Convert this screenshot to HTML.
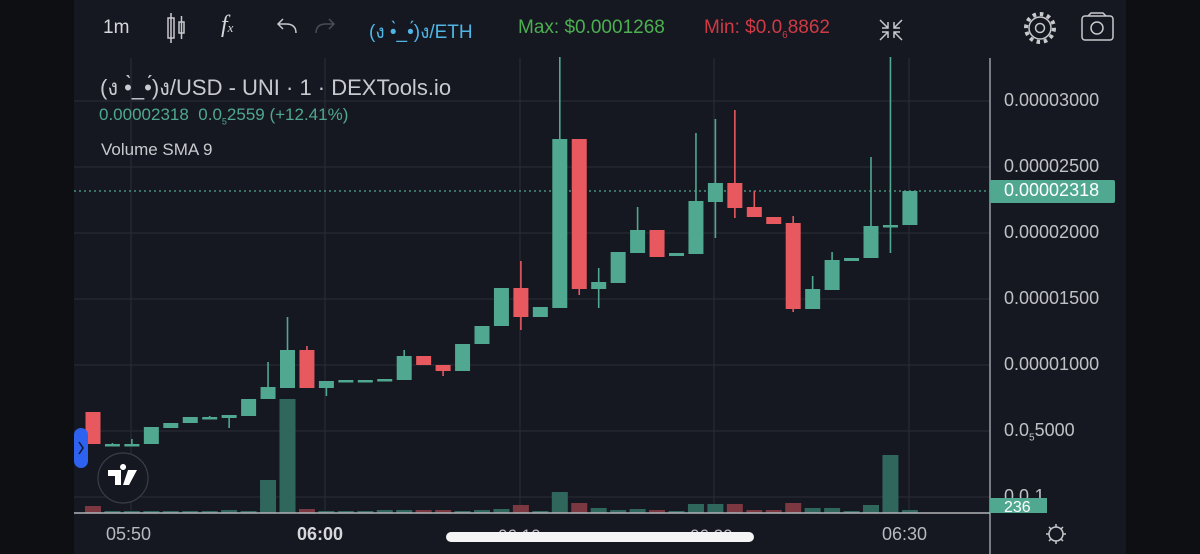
<!DOCTYPE html>
<html><head><meta charset="utf-8"><style>
html,body{margin:0;padding:0;width:1200px;height:554px;overflow:hidden;background:#0e0f13;font-family:"Liberation Sans","DejaVu Sans","Noto Sans CJK SC",sans-serif;}
#w{position:relative;width:1200px;height:554px;}
.t{position:absolute;white-space:nowrap;}
.p{font-size:18px;color:#c0c1c6;left:1004px;}
</style></head><body><div id="w">
<svg id="s" width="1200" height="554" style="position:absolute;left:0;top:0">
<rect x="0" y="0" width="1200" height="554" fill="#0e0f13"/>
<rect x="74" y="0" width="1052" height="554" fill="#161821"/>
<g stroke="#2a2d38" stroke-width="1">
<line x1="74" y1="101" x2="990" y2="101"/><line x1="74" y1="167" x2="990" y2="167"/><line x1="74" y1="233" x2="990" y2="233"/><line x1="74" y1="299" x2="990" y2="299"/><line x1="74" y1="365" x2="990" y2="365"/><line x1="74" y1="431" x2="990" y2="431"/><line x1="74" y1="497" x2="990" y2="497"/>
<line x1="131" y1="58" x2="131" y2="513"/><line x1="325" y1="58" x2="325" y2="513"/><line x1="520" y1="58" x2="520" y2="513"/><line x1="714" y1="58" x2="714" y2="513"/><line x1="909" y1="58" x2="909" y2="513"/>
</g>
<line x1="990" y1="58" x2="990" y2="554" stroke="#9a9ca3" stroke-width="1.5"/>
<line x1="74" y1="191" x2="990" y2="191" stroke="#4fa88f" stroke-width="1.2" stroke-dasharray="2,3"/>
<g id="c"></g>
<line x1="74" y1="513" x2="990" y2="513" stroke="#b0b2b8" stroke-width="1.5"/>
<rect x="74" y="428" width="14" height="40" rx="7" fill="#2d62f0"/>
<path d="M79 442 L83 448 L79 454" stroke="#0e1630" stroke-width="1.5" fill="none"/>
<circle cx="123" cy="478" r="25" fill="#161821" stroke="#3a3d47" stroke-width="1.2"/>
<path d="M108 470 h13 v15 h-6 v-9 h-7z M123 470 a3 3 0 1 1 0.1 0z M128 470 h9 l-8 15 h-6z" fill="#fff"/>
<text x="1004" y="502" font-size="18" fill="#c0c1c6" font-family="Liberation Sans">0.0<tspan font-size="10" dy="3">6</tspan><tspan dy="-3">1</tspan></text>
<rect x="990" y="180" width="125" height="23" rx="2" fill="#4fa88f"/>
<rect x="990" y="498" width="57" height="15" fill="#4fa88f"/>
<text x="498" y="541" font-size="17" fill="#b8b9be" font-family="Liberation Sans">06:10</text>
<text x="690" y="541" font-size="17" fill="#b8b9be" font-family="Liberation Sans">06:20</text>
<rect x="446" y="532" width="308" height="10" rx="5" fill="#f4f4f4"/>
<g stroke="#c8c9cd" stroke-width="1.5" fill="none">
<rect x="168" y="18" width="6" height="20"/><line x1="171" y1="13" x2="171" y2="43"/><rect x="179" y="22" width="5" height="11"/><line x1="181.5" y1="16" x2="181.5" y2="39"/>
<path d="M296 33 q0 -9 -10 -9 h-8 M283 19 l-5 5 l5 5"/>
<path d="M316 33 q0 -9 10 -9 h8 M329 19 l5 5 l-5 5" stroke="#4a4c55"/>
<path d="M880 20 l8 8 M888 22 v6 h-6 M902 20 l-8 8 M894 22 v6 h6 M880 40 l8 -8 M888 38 v-6 h-6 M902 40 l-8 -8 M894 38 v-6 h6"/>
<circle cx="1040" cy="28" r="4.5"/><circle cx="1040" cy="28" r="11"/><circle cx="1040" cy="28" r="14" stroke-width="4" stroke-dasharray="3.5,3.8"/>
<rect x="1082" y="16" width="31" height="24" rx="3"/><circle cx="1097" cy="28" r="6"/><path d="M1088 16 l3 -3 h12 l3 3"/>
<circle cx="1056" cy="534" r="7"/><path d="M1056 524v3M1056 541v3M1046 534h3M1063 534h3M1049 527l2 2M1061 539l2 2M1049 541l2-2M1061 529l2-2"/>
</g>
</svg>
<div class="t" style="left:103px;top:17px;font-size:19px;color:#d6d7db">1m</div>
<div class="t" style="left:221px;top:12px;font-size:24px;color:#d6d7db;font-family:'Liberation Serif',serif;font-style:italic">f<span style="font-size:13px">x</span></div>
<div class="t" style="left:369px;top:17px;font-size:19px;color:#4fb6e6">(ง •̀_•́)ง/ETH</div>
<div class="t" style="left:518px;top:17px;font-size:19px;color:#4caf50">Max: $0.0001268</div>
<div class="t" style="left:704px;top:17px;font-size:19px;color:#cf3a45">Min: $0.0<sub style="font-size:10px">6</sub>8862</div>
<div class="t" style="left:100px;top:70px;font-size:22px;color:#c9cacf">(ง •̀_•́)ง/USD - UNI · 1 · DEXTools.io</div>
<div class="t" style="left:99px;top:105px;font-size:17px;color:#4fa88f">0.00002318&nbsp; 0.0<sub style="font-size:9px">5</sub>2559 (+12.41%)</div>
<div class="t" style="left:101px;top:140px;font-size:17px;color:#c9cacf">Volume SMA 9</div>
<div class="t p" style="top:90px">0.00003000</div>
<div class="t p" style="top:156px">0.00002500</div>
<div class="t p" style="top:180px;color:#fff">0.00002318</div>
<div class="t p" style="top:222px">0.00002000</div>
<div class="t p" style="top:288px">0.00001500</div>
<div class="t p" style="top:354px">0.00001000</div>
<div class="t p" style="top:420px">0.0<sub style="font-size:10px">5</sub>5000</div>
<div class="t" style="left:1004px;top:498px;font-size:16px;color:#fff;height:15px;overflow:hidden;line-height:19px">236</div>
<div class="t" style="left:106px;top:524px;font-size:18px;color:#b8b9be">05:50</div>
<div class="t" style="left:297px;top:524px;font-size:18px;color:#d6d7db;font-weight:bold">06:00</div>
<div class="t" style="left:882px;top:524px;font-size:18px;color:#b8b9be">06:30</div>
</div>
<script>
var G="#4fa88f",R="#e8585f",VG="#2f675d",VR="#7b3840";
var d=[[412,444,412,444,506,1],[444,444,443,445,511,0],[444,444,439,445,511,0],[444,427,427,444,511,0],[428,423,423,428,511,0],[423,417,417,423,511,0],[418,417,416,418,511,0],[418,415,415,428,510,0],[416,399,399,416,511,0],[399,387,362,399,480,0],[388,350,317,388,399,0],[350,388,346,388,509,1],[388,381,381,396,511,0],[382,380,380,382,511,0],[381,380,380,381,511,0],[380,379,379,380,510,0],[380,356,350,380,510,0],[356,365,356,365,510,1],[365,371,365,376,510,1],[371,344,344,371,511,0],[344,326,326,344,510,0],[326,288,288,326,509,0],[288,317,261,330,505,1],[317,307,307,317,511,0],[308,139,57,308,492,0],[139,289,139,295,503,1],[289,282,268,308,508,0],[283,252,252,283,510,0],[253,230,207,253,509,0],[230,257,230,257,510,1],[256,253,253,256,511,0],[254,201,133,254,504,0],[202,183,119,238,504,0],[183,208,110,218,504,1],[207,217,191,217,510,1],[217,224,217,224,510,1],[223,309,216,312,503,1],[309,289,276,309,508,0],[290,260,252,290,508,0],[261,258,258,261,511,0],[258,226,157,258,505,0],[227,225,57,253,455,0],[225,191,191,225,510,0]];
var s="";
d.forEach(function(c,i){var x=93+i*19.45,col=c[5]?R:G,t=Math.min(c[0],c[1]),h=Math.max(Math.abs(c[0]-c[1]),2.5);
s+='<rect x="'+(x-8)+'" y="'+c[4]+'" width="16" height="'+(513-c[4])+'" fill="'+(c[5]?VR:VG)+'"/>';
s+='<line x1="'+x+'" y1="'+c[2]+'" x2="'+x+'" y2="'+c[3]+'" stroke="'+col+'" stroke-width="1.6"/>';
s+='<rect x="'+(x-7.5)+'" y="'+t+'" width="15" height="'+h+'" fill="'+col+'"/>';});
document.getElementById("c").innerHTML=s;
</script>
</body></html>
